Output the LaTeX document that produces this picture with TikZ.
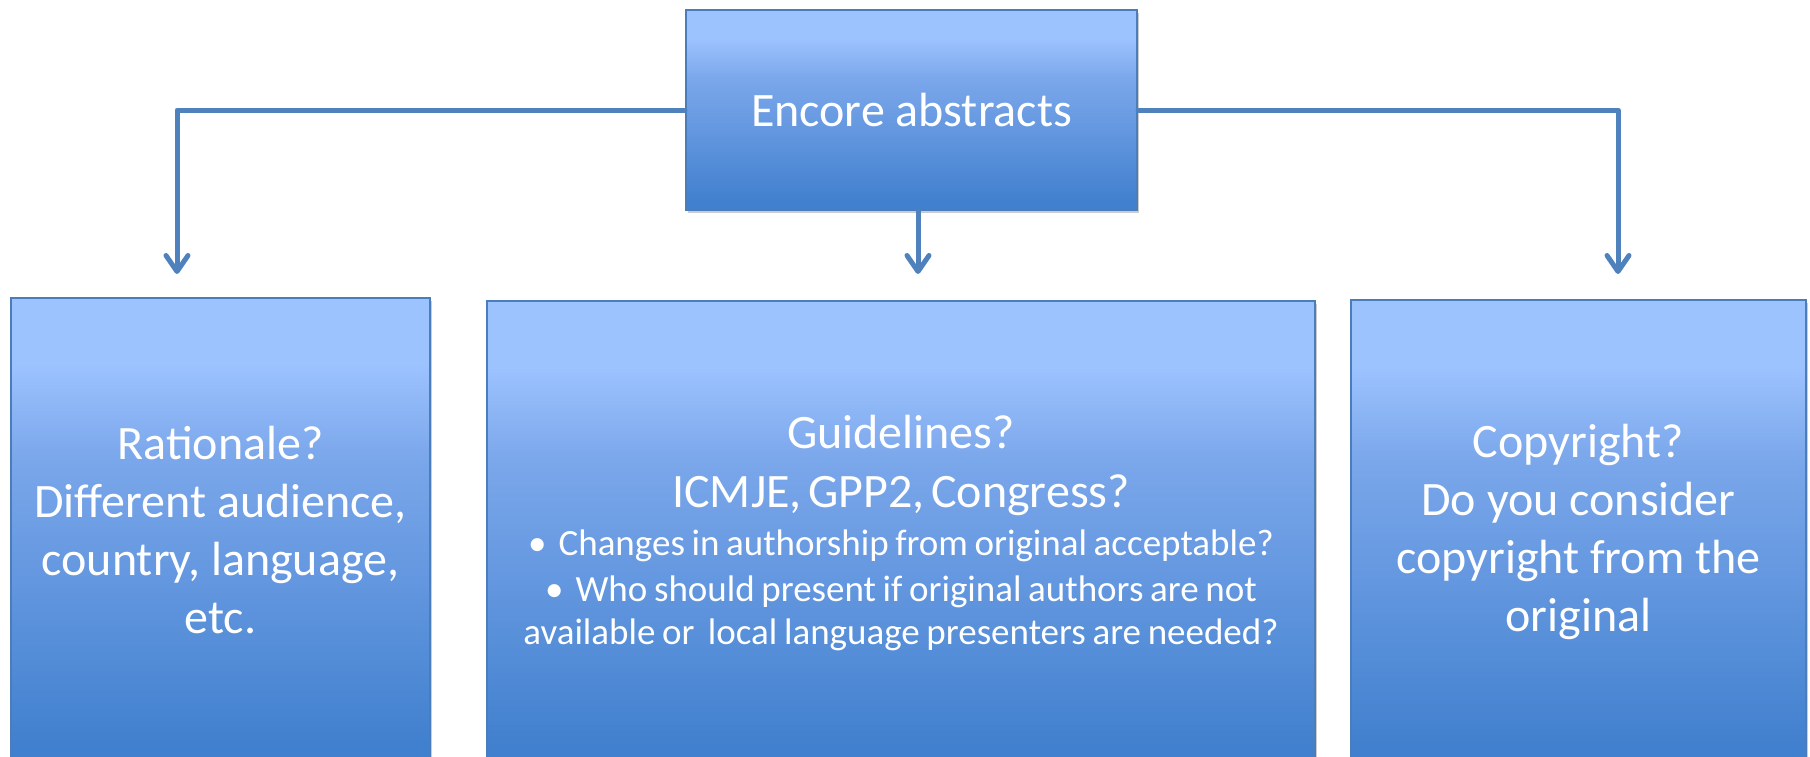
\documentclass[tikz,border=0pt]{standalone}
\usepackage{fontspec}
\setmainfont{Carlito}
\usetikzlibrary{arrows.meta,positioning,shadows,calc}

\definecolor{boxtop}{HTML}{9DC3FF}
\definecolor{boxmid}{HTML}{7BA7EB}
\definecolor{boxbot}{HTML}{4180CE}
\definecolor{boxline}{HTML}{4A7DBA}
\definecolor{linkblue}{HTML}{4F81BD}

\pgfdeclareverticalshading{boxgrad}{100bp}{color(0bp)=(boxbot); color(27bp)=(boxbot);
  color(45bp)=(boxmid!60!boxbot); color(58bp)=(boxmid); color(68bp)=(boxtop);
  color(100bp)=(boxtop)}

\begin{document}
\begin{tikzpicture}[x=0.5pt,y=-0.5pt,>={Straight Barb[round,length=8pt,width=11pt]},
semithick]
\tikzstyle{box}=[rectangle, shading=boxgrad, draw=boxline, line width=1pt,
text=white, align=center, inner sep=0pt,
drop shadow={shadow xshift=1pt, shadow yshift=-1.5pt, fill=black, opacity=0.2}]
\tikzstyle{big}=[font=\fontsize{24}{29}\selectfont]
\tikzstyle{link}=[->, draw=linkblue, line width=2.5pt, line cap=round, line join=round]

\useasboundingbox (0,0) rectangle (1810,756);
\clip (0,0) rectangle (1810,756);

\node[box, big, minimum width=225.5pt, minimum height=100pt]
(Top) at (911.5,110) {Encore abstracts};

\node[box, big, minimum width=209.5pt, minimum height=232pt]
(Rat) at (220.5,530) {Rationale?\\ Different audience,\\ country, language,\\ etc.};

\node[box, minimum width=414pt, minimum height=232pt, text width=400pt]
(Gdl) at (901,533) {
  {\fontsize{24}{29.5}\selectfont Guidelines?\\ ICMJE, GPP2, Congress?\par}
  \vspace{2.25pt}
  {\fontsize{18.5}{21.5}\selectfont
  \textbullet\hspace{6pt}Changes in authorship from original acceptable?\par
  \vspace{1.5pt}
  \textbullet\hspace{6pt}Who should present if original authors are not\\
  available or\ \ local language presenters are needed?\par}
};

\node[box, big, minimum width=227.5pt, minimum height=232pt]
(Cpy) at (1578.5,532) {Copyright?\\ Do you consider\\ copyright from the\\ original};

%arrow ends above the lower boxes
\coordinate (tipL) at (177,274);
\coordinate (tipM) at (918,274);
\coordinate (tipR) at (1618,274);

\draw[link] (Top.west) -| (tipL);
\draw[link] (Top.south -| tipM) -- (tipM);
\draw[link] (Top.east) -| (tipR);

\end{tikzpicture}
\end{document}
